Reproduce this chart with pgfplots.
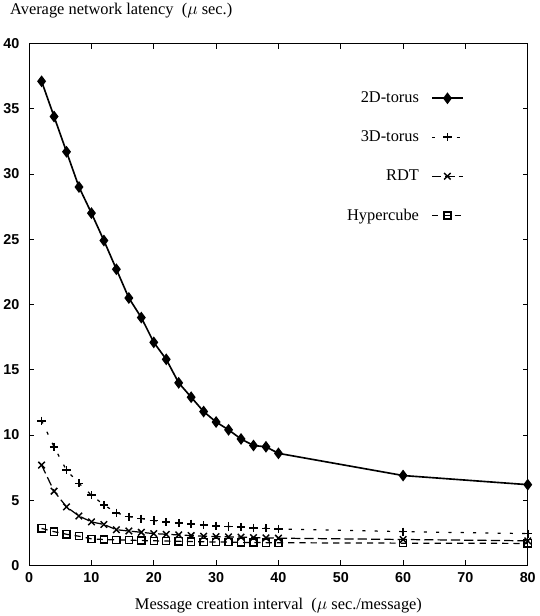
\documentclass[border=0pt]{standalone}
\usepackage{fontspec}
\setmainfont{Liberation Serif}
\newfontfamily\tickfont{Liberation Sans}
\usepackage{pgfplots}
\pgfplotsset{compat=1.18}

\pgfplotstableread{
x    torus2 torus3 rdt  hyper
2    37.1   11.1   7.7  2.85
4    34.4   9.1    5.7  2.6
6    31.7   7.3    4.5  2.4
8    29.0   6.3    3.8  2.25
10   27.0   5.4    3.35 2.05
12   24.9   4.65   3.15 2.0
14   22.7   4.05   2.75 1.97
16   20.5   3.75   2.65 1.95
18   19.0   3.6    2.55 1.92
20   17.1   3.45   2.45 1.9
22   15.8   3.35   2.4  1.88
24   14.0   3.25   2.35 1.86
26   12.9   3.2    2.3  1.84
28   11.8   3.1    2.25 1.82
30   11.0   3.05   2.22 1.8
32   10.4   3.0    2.2  1.8
34   9.7    2.95   2.18 1.78
36   9.2    2.9    2.15 1.77
38   9.1    2.85   2.12 1.76
40   8.6    2.8    2.1  1.75
60   6.9    2.6    2.0  1.72
80   6.2    2.45   1.9  1.7
}\latency

\begin{document}
\begin{tikzpicture}
\begin{axis}[
  scale only axis,
  width=487pt, height=510pt,
  xmin=0, xmax=80, ymin=0, ymax=40,
  xtick={0,10,...,80}, ytick={0,5,...,40},
  tick align=inside,
  major tick length=5pt,
  axis line style={line width=1.2pt},
  every tick/.style={line width=0.9pt, black},
  tick label style={font=\tickfont\bfseries\fontsize{14}{14}\selectfont},
  /pgf/number format/assume math mode=true,
  xticklabel style={yshift=-3pt},
  yticklabel style={xshift=-6pt},
  xlabel={Message creation interval~~($\mu$ sec./message)},
  xlabel style={font=\fontsize{16}{19}\selectfont, yshift=-8pt},
  ylabel={Average network latency~~($\mu$ sec.)},
  every axis y label/.style={at={(rel axis cs:0,1)}, anchor=south west,
    xshift=-22pt, yshift=21pt, font=\fontsize{16}{19}\selectfont},
  legend style={draw=none, fill=none, at={(0.878,0.915)}, anchor=north east,
    legend cell align=right, legend plot pos=right, row sep=22pt, column sep=10pt,
    font=\fontsize{16}{19}\selectfont},
  legend image code/.code={\draw[mark repeat=2,mark phase=2] plot coordinates {(0pt,0pt)(15pt,0pt)(30pt,0pt)};},
]
\addplot[black, line width=1.6pt, mark=diamond*, mark size=4.5pt, mark options={solid}] table[x=x, y=torus2] {\latency};
\addlegendentry{2D-torus}
\addplot[black, line width=1.2pt, dash pattern=on 3pt off 9pt, mark=+, mark size=4pt, mark options={solid, line width=1.6pt}] table[x=x, y=torus3] {\latency};
\addlegendentry{3D-torus}
\addplot[black, line width=1.2pt, dash pattern=on 9pt off 4pt, mark=x, mark size=4.5pt, mark options={solid, line width=1.4pt}] table[x=x, y=rdt] {\latency};
\addlegendentry{RDT}
\addplot[black, line width=1.2pt, dash pattern=on 6pt off 5pt, mark=square, mark size=3.5pt, mark options={solid, line width=1.3pt}] table[x=x, y=hyper] {\latency};
\addlegendentry{Hypercube}
\end{axis}
\end{tikzpicture}
\end{document}
